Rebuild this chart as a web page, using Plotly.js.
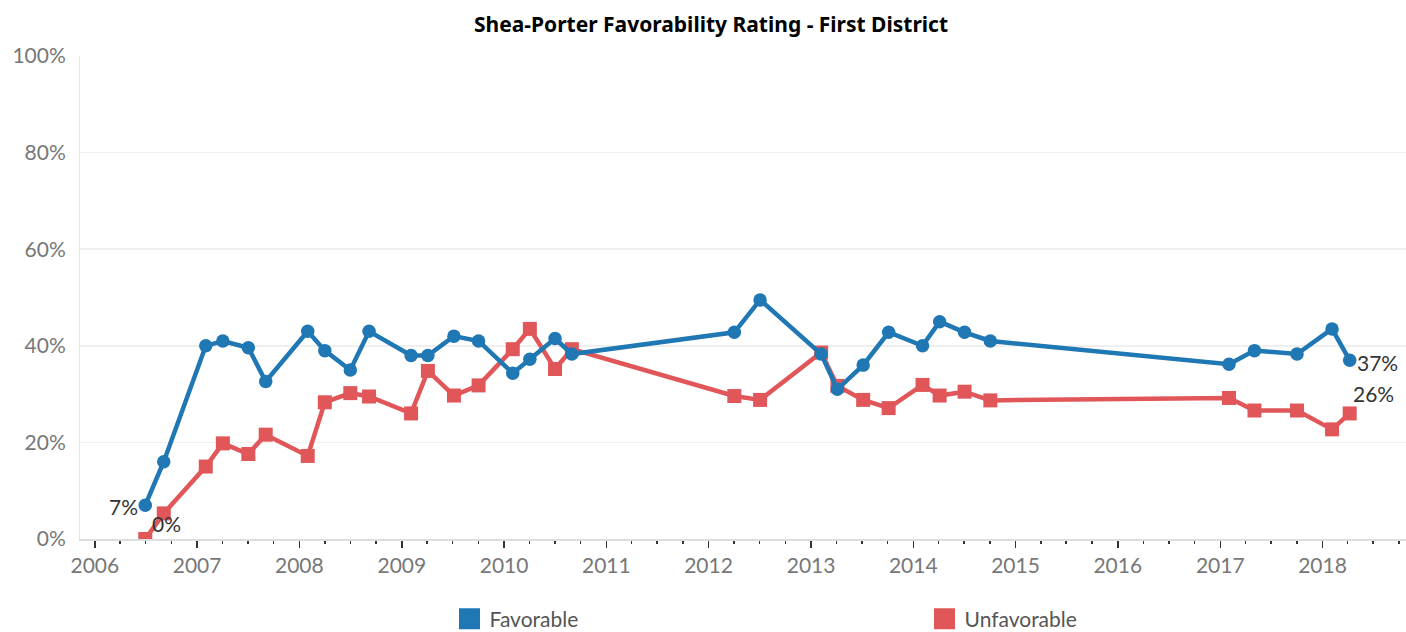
<!DOCTYPE html>
<html>
<head>
<meta charset="utf-8">
<script src="https://cdn.plot.ly/plotly-3.0.1.min.js"></script>
<style>
  html, body { margin: 0; padding: 0; background: #ffffff; }
  #chart { width: 1406px; height: 632px; }
</style>
</head>
<body>
<div id="chart"></div>
<script>
// ---- Data ----
const pollDates = [
  '2006-06-30', '2006-09-04', '2007-02-01', '2007-04-03', '2007-07-03', '2007-09-03',
  '2008-01-31', '2008-04-01', '2008-07-01', '2008-09-06', '2009-02-03', '2009-04-04',
  '2009-07-06', '2009-10-02', '2010-02-01', '2010-04-03', '2010-07-02', '2010-08-31',
  '2012-04-02', '2012-07-03', '2013-02-06', '2013-04-05', '2013-07-06', '2013-10-05',
  '2014-02-03', '2014-04-05', '2014-07-03', '2014-10-03', '2017-02-01', '2017-05-03',
  '2017-10-02', '2018-02-04', '2018-04-08'
];
const favorable = [
  7, 16, 40, 41, 39.6, 32.6,
  43, 39, 35, 43, 38, 38,
  42, 41, 34.3, 37.2, 41.5, 38.3,
  42.8, 49.5, 38.3, 31, 36, 42.8,
  40, 45, 42.8, 41, 36.2, 39,
  38.3, 43.5, 37
];
const unfavorable = [
  0, 5.3, 15, 19.8, 17.6, 21.6,
  17.2, 28.3, 30.2, 29.5, 26, 34.8,
  29.7, 31.8, 39.3, 43.5, 35.2, 39.3,
  29.6, 28.8, 38.6, 31.7, 28.8, 27.1,
  31.9, 29.7, 30.5, 28.7, 29.2, 26.6,
  26.6, 22.7, 26
];
const seriesNames = ['Favorable', 'Unfavorable'];
const yTickVals = [0, 20, 40, 60, 80, 100];
const yTickText = ['0%', '20%', '40%', '60%', '80%', '100%'];
const chartTitle = 'Shea-Porter Favorability Rating - First District';

// ---- Styles ----
const BLUE = '#1f77b4';
const RED = '#e15759';
const last = pollDates.length - 1;
const pct = v => Math.round(v) + '%';
const FONT = 'Lato, "Open Sans", sans-serif';

const traces = [
  {
    x: pollDates, y: unfavorable, name: seriesNames[1], type: 'scatter', mode: 'lines+markers',
    line: { color: RED, width: 4.5 }, marker: { color: RED, symbol: 'square', size: 14 },
    showlegend: false, hoverinfo: 'x+y'
  },
  {
    x: pollDates, y: favorable, name: seriesNames[0], type: 'scatter', mode: 'lines+markers',
    line: { color: BLUE, width: 4.5 }, marker: { color: BLUE, symbol: 'circle', size: 13.5 },
    showlegend: false, hoverinfo: 'x+y'
  },
  // legend-only entries with square swatches
  {
    x: [null], y: [null], name: seriesNames[0], type: 'scatter', mode: 'markers',
    marker: { color: BLUE, symbol: 'square', size: 16, line: { color: BLUE, width: 5 } },
    showlegend: true, legendrank: 1
  },
  {
    x: [null], y: [null], name: seriesNames[1], type: 'scatter', mode: 'markers',
    marker: { color: RED, symbol: 'square', size: 16, line: { color: RED, width: 5 } },
    showlegend: true, legendrank: 2
  }
];

const labelFont = { family: FONT, size: 21, color: '#333333' };
const annotations = [
  { x: pollDates[0], y: favorable[0], text: pct(favorable[0]), xanchor: 'right', yanchor: 'middle',
    xshift: -5, yshift: -1, showarrow: false, font: labelFont },
  { x: pollDates[0], y: unfavorable[0], text: pct(unfavorable[0]), xanchor: 'left', yanchor: 'middle',
    xshift: 5, yshift: 16, showarrow: false, font: labelFont },
  { x: pollDates[last], y: favorable[last], text: pct(favorable[last]), xanchor: 'left', yanchor: 'middle',
    xshift: 5, yshift: -2, showarrow: false, font: labelFont },
  { x: pollDates[last], y: unfavorable[last], text: pct(unfavorable[last]), xanchor: 'left', yanchor: 'middle',
    xshift: 1, yshift: 20, showarrow: false, font: labelFont }
];

const layout = {
  width: 1406, height: 632,
  margin: { l: 80, r: 0, t: 56, b: 93, pad: 0 },
  paper_bgcolor: '#ffffff', plot_bgcolor: '#ffffff',
  font: { family: FONT, color: '#777777' },
  title: {
    text: '<b>' + chartTitle + '</b>',
    font: { family: '"Noto Sans", "Open Sans", sans-serif', size: 21, color: '#000000' },
    xref: 'container', x: 0.5057, xanchor: 'center',
    yref: 'container', y: 1 - 25 / 632, yanchor: 'middle'
  },
  xaxis: {
    type: 'date',
    range: ['2005-11-09', '2018-10-26'],
    dtick: 'M12', tick0: '2006-01-01', tickformat: '%Y',
    ticks: 'outside', ticklen: 7, tickwidth: 1.5, tickcolor: '#333333',
    minor: { dtick: 'M3', tick0: '2006-01-01', ticks: 'outside', ticklen: 3, tickwidth: 1.5, tickcolor: '#333333', showgrid: false },
    showgrid: false, zeroline: false,
    showline: true, linecolor: '#dddddd', linewidth: 2,
    tickfont: { family: FONT, size: 21, color: '#777777' },
    ticklabelstandoff: 0,
    fixedrange: true
  },
  yaxis: {
    range: [0, 100],
    tickvals: yTickVals, ticktext: yTickText,
    showgrid: true, gridcolor: '#efefef', gridwidth: 1.5,
    zeroline: false,
    showline: true, linecolor: '#e6e6e6', linewidth: 1,
    ticks: '',
    tickfont: { family: FONT, size: 21, color: '#777777' },
    ticklabelstandoff: 9,
    fixedrange: true
  },
  showlegend: true,
  legend: {
    orientation: 'h',
    xref: 'paper', x: (449.5 - 80) / 1326, xanchor: 'left',
    yref: 'container', y: 1 - 619 / 632, yanchor: 'middle',
    entrywidth: 430, entrywidthmode: 'pixels',
    font: { family: FONT, size: 21, color: '#555555' },
    bgcolor: 'rgba(0,0,0,0)', borderwidth: 0
  },
  annotations: annotations
};

Plotly.newPlot('chart', traces, layout, { displayModeBar: false, staticPlot: true });
</script>
</body>
</html>
